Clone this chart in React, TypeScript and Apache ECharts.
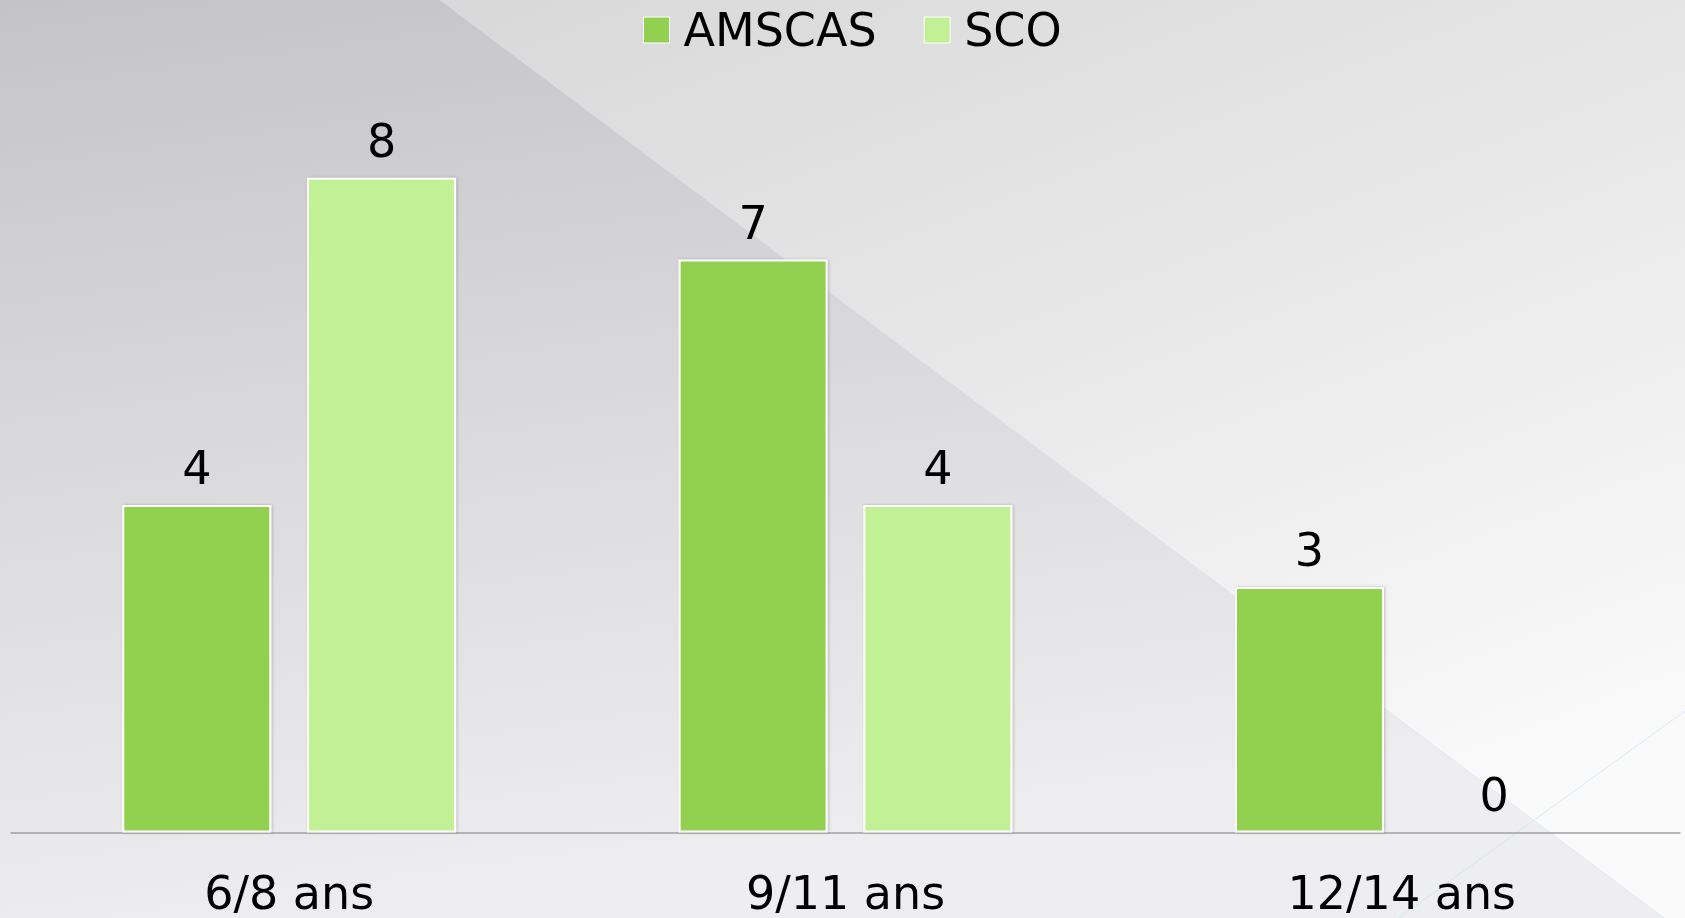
import React, { useEffect, useRef } from "react";
import * as echarts from "echarts";

const categories = ["6/8 ans", "9/11 ans", "12/14 ans"];
const amscasValues = [4, 7, 3];
const scoValues = [8, 4, 0];
const seriesNames = ["AMSCAS", "SCO"];
const colors = ["#92d050", "#c2f094"];

const W = 1685;
const H = 918;
const FONT = "DejaVu Sans";

export default function App() {
  const ref = useRef<HTMLDivElement>(null);
  useEffect(() => {
    if (!ref.current) return;
    const chart = echarts.init(ref.current, undefined, { renderer: "svg" });
    const barStyle = (c: string) => ({
      color: c,
      borderColor: "#ffffff",
      borderWidth: 2,
      shadowColor: "rgba(0,0,0,0.22)",
      shadowBlur: 3,
      shadowOffsetX: 1,
      shadowOffsetY: 0,
    });
    const label = {
      show: true,
      position: "top",
      distance: 14,
      fontFamily: FONT,
      fontSize: 46,
      color: "#000000",
    };
    chart.setOption({
      animation: false,
      backgroundColor: "transparent",
      graphic: [
        {
          type: "rect",
          z: -10,
          silent: true,
          shape: { x: 0, y: 0, width: W, height: H },
          style: {
            fill: new echarts.graphic.LinearGradient(0, 0, 0.7, 1, [
              { offset: 0, color: "#d4d4d4" },
              { offset: 0.5, color: "#e6e6e6" },
              { offset: 1, color: "#fafafa" },
            ]),
          },
        },
        {
          type: "polygon",
          z: -9,
          silent: true,
          shape: {
            points: [
              [-2, -2],
              [437.33, -2],
              [1666.67, 920],
              [-2, 920],
            ],
          },
          style: {
            fill: new echarts.graphic.LinearGradient(0, 0, 0.25, 1, [
              { offset: 0, color: "#c4c4c7" },
              { offset: 0.5, color: "#dadadd" },
              { offset: 1, color: "#eeeef0" },
            ]),
          },
        },
        {
          type: "line",
          z: -8,
          silent: true,
          shape: { x1: 437.33, y1: -2, x2: 1666.67, y2: 920 },
          style: { stroke: "rgba(210,232,240,0.6)", lineWidth: 1 },
        },
        {
          type: "line",
          z: -8,
          silent: true,
          shape: { x1: 1389, y1: 925, x2: 1685, y2: 711 },
          style: { stroke: "rgba(200,230,240,0.7)", lineWidth: 1 },
        },
      ],
      legend: {
        data: seriesNames,
        left: 643,
        top: 7,
        padding: 0,
        itemWidth: 26,
        itemHeight: 26,
        itemGap: 47,
        icon: "rect",
        itemStyle: { borderColor: "#ffffff", borderWidth: 1 },
        textStyle: {
          fontFamily: FONT,
          fontSize: 46,
          color: "#000000",
          padding: [0, 0, 0, 9],
        },
      },
      grid: {
        left: 11,
        right: 5,
        top: 177.7,
        bottom: 85.5,
        containLabel: false,
      },
      xAxis: {
        type: "category",
        data: categories,
        axisLine: { show: true, lineStyle: { color: "#a0a0a0", width: 1.5 } },
        axisTick: { show: false },
        axisLabel: {
          margin: 37,
          fontFamily: FONT,
          fontSize: 46,
          color: "#000000",
        },
      },
      yAxis: {
        type: "value",
        min: 0,
        max: 8,
        show: false,
        splitLine: { show: false },
      },
      series: [
        {
          name: seriesNames[0],
          type: "bar",
          data: amscasValues,
          barWidth: 149,
          barGap: "24%",
          itemStyle: barStyle(colors[0]),
          label,
        },
        {
          name: seriesNames[1],
          type: "bar",
          data: scoValues,
          barWidth: 149,
          barGap: "24%",
          itemStyle: barStyle(colors[1]),
          label,
        },
      ],
    });
    return () => chart.dispose();
  }, []);
  return (
    <div
      ref={ref}
      style={{ position: "fixed", left: 0, top: 0, width: W, height: H }}
    />
  );
}
